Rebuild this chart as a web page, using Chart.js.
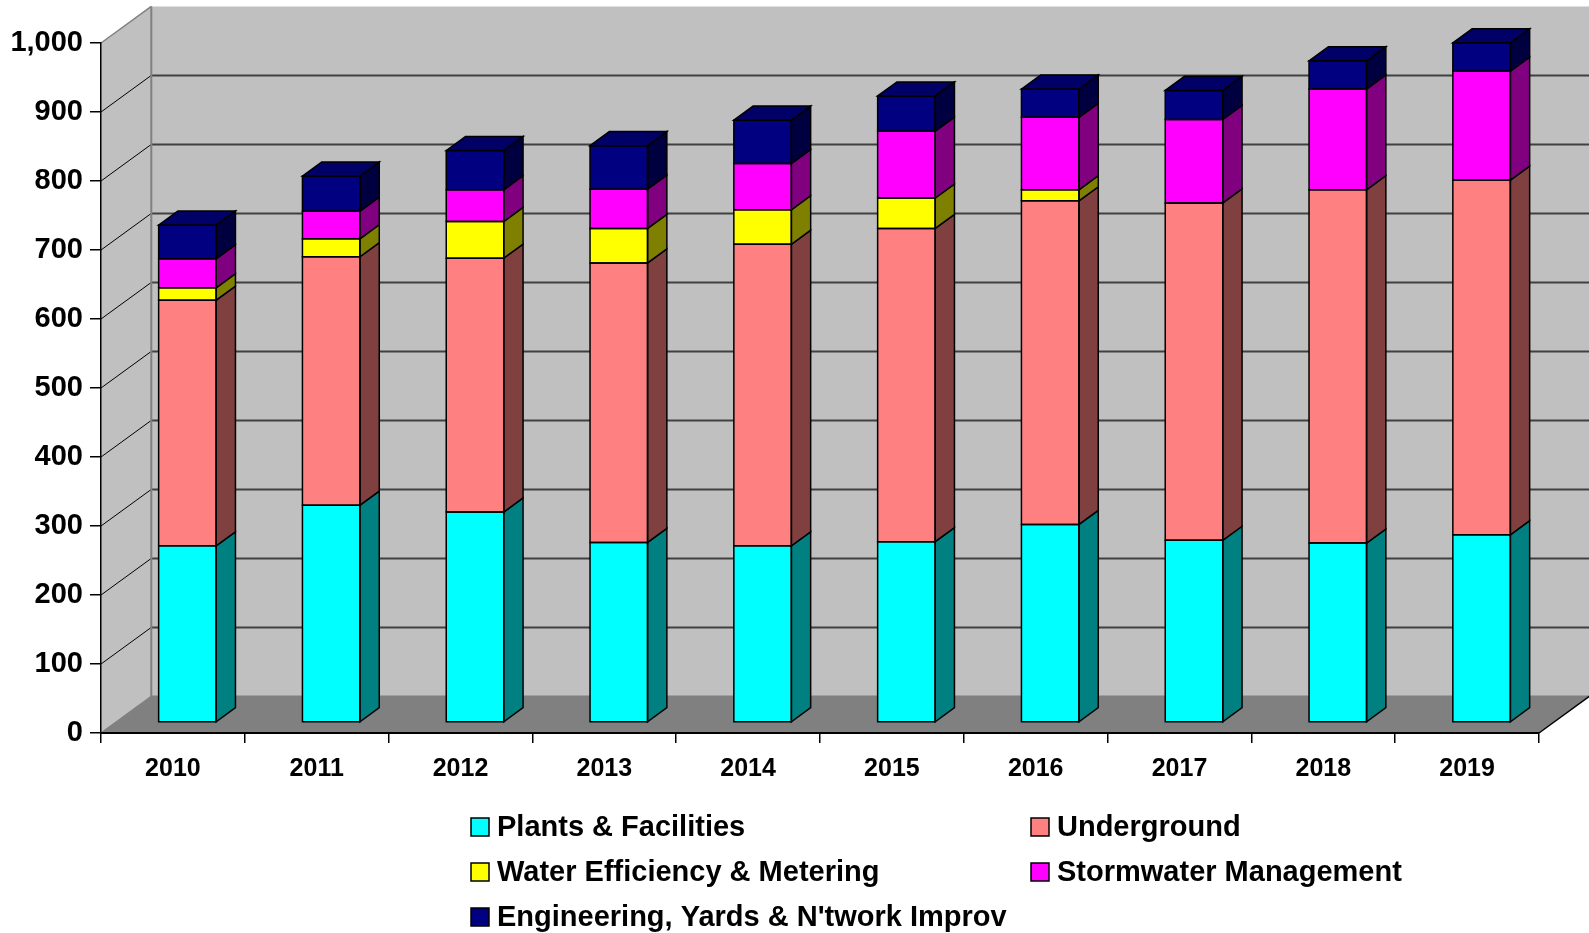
<!DOCTYPE html>
<html>
<head>
<meta charset="utf-8">
<script src="https://cdn.jsdelivr.net/npm/chart.js@4.4.0/dist/chart.umd.min.js"></script>
<style>
  html, body { margin: 0; padding: 0; background: #fff; }
  canvas { display: block; }
</style>
</head>
<body>
<canvas id="capitalChart" width="1589" height="933"></canvas>
<script>
const years = ['2010', '2011', '2012', '2013', '2014', '2015', '2016', '2017', '2018', '2019'];
const plants = [256, 315, 305, 261, 256, 262, 287, 264, 260, 272];
const underground = [356, 360, 368, 405, 437, 454, 469, 489, 512, 514];
const waterEfficiency = [18, 26, 53, 50, 50, 44, 16, 0, 0, 0];
const stormwater = [42, 40, 46, 57, 67, 97, 105, 121, 146, 158];
const engineering = [49, 51, 57, 63, 63, 51, 41, 42, 41, 41];
const yTicks = [0, 100, 200, 300, 400, 500, 600, 700, 800, 900, 1000];

const seriesNames = ['Plants & Facilities', 'Underground', 'Water Efficiency & Metering',
    'Stormwater Management', "Engineering, Yards & N'twork Improv"];
const seriesValues = [plants, underground, waterEfficiency, stormwater, engineering];
const frontColors = ['#00FFFF', '#FF8080', '#FFFF00', '#FF00FF', '#000080'];
const sideColors = ['#008080', '#804040', '#808000', '#800080', '#000040'];
const topColors = ['#00CCCC', '#CC6666', '#CCCC00', '#CC00CC', '#000066'];

// 3d projection offsets (pixels)
const WALL = { dx: 50.3, dy: -36.6 };
const BAR_SHIFT = { dx: 14.5, dy: -10.5 };
const BAR_DEPTH = { dx: 19.3, dy: -14.1 };
const FONT = "'Liberation Sans', Arial, sans-serif";

function poly(ctx, pts, fill, stroke, lw) {
    ctx.beginPath();
    ctx.moveTo(pts[0][0], pts[0][1]);
    for (let i = 1; i < pts.length; i++) ctx.lineTo(pts[i][0], pts[i][1]);
    ctx.closePath();
    if (fill) { ctx.fillStyle = fill; ctx.fill(); }
    if (stroke) { ctx.strokeStyle = stroke; ctx.lineWidth = lw || 1; ctx.stroke(); }
}

const wallsPlugin = {
    id: 'walls',
    beforeDraw(chart) {
        const { ctx, chartArea: a, scales: { y } } = chart;
        const top = y.getPixelForValue(1000);
        const bottom = y.getPixelForValue(0);
        const L = a.left, R = a.right;
        ctx.save();
        // back wall
        poly(ctx, [[L + WALL.dx, top + WALL.dy], [R + WALL.dx, top + WALL.dy],
            [R + WALL.dx, bottom + WALL.dy], [L + WALL.dx, bottom + WALL.dy]], '#C0C0C0');
        // left wall
        poly(ctx, [[L, top], [L + WALL.dx, top + WALL.dy], [L + WALL.dx, bottom + WALL.dy], [L, bottom]], '#C0C0C0');
        // floor
        poly(ctx, [[L, bottom], [L + WALL.dx, bottom + WALL.dy], [R + WALL.dx, bottom + WALL.dy], [R, bottom]], '#808080');

        // gridlines on the walls
        yTicks.forEach(v => {
            const py = y.getPixelForValue(v);
            if (v > 0 && v < 1000) {
                ctx.strokeStyle = '#404040';
                ctx.lineWidth = 2;
                ctx.beginPath();
                ctx.moveTo(L + WALL.dx, py + WALL.dy);
                ctx.lineTo(R + WALL.dx + 2, py + WALL.dy);
                ctx.stroke();
                ctx.strokeStyle = '#000';
                ctx.lineWidth = 1;
            } else {
                ctx.strokeStyle = '#808080';
                ctx.lineWidth = 1.5;
            }
            ctx.beginPath();
            ctx.moveTo(L, py);
            ctx.lineTo(L + WALL.dx, py + WALL.dy);
            ctx.stroke();
        });
        // wall corner edges
        ctx.strokeStyle = '#808080';
        ctx.lineWidth = 2;
        ctx.beginPath();
        ctx.moveTo(L + WALL.dx, top + WALL.dy);
        ctx.lineTo(L + WALL.dx, bottom + WALL.dy);
        ctx.lineTo(R + WALL.dx + 2, bottom + WALL.dy);
        ctx.stroke();
        // floor right edge
        ctx.strokeStyle = '#000';
        ctx.lineWidth = 1.5;
        ctx.beginPath();
        ctx.moveTo(R, bottom);
        ctx.lineTo(R + WALL.dx, bottom + WALL.dy);
        ctx.stroke();
        ctx.restore();
    },
    beforeDatasetsDraw(chart) {
        chart.ctx.save();
        chart.ctx.translate(BAR_SHIFT.dx, BAR_SHIFT.dy);
    },
    afterDatasetsDraw(chart) {
        const ctx = chart.ctx;
        const topSeg = {};
        chart.data.datasets.forEach((ds, di) => {
            const meta = chart.getDatasetMeta(di);
            meta.data.forEach((el, i) => {
                const p = el.getProps(['x', 'y', 'base', 'width'], true);
                const t = Math.min(p.y, p.base), b = Math.max(p.y, p.base);
                if (b - t < 0.5) return;
                const l = p.x - p.width / 2, r = p.x + p.width / 2;
                // side face
                poly(ctx, [[r, t], [r + BAR_DEPTH.dx, t + BAR_DEPTH.dy],
                    [r + BAR_DEPTH.dx, b + BAR_DEPTH.dy], [r, b]], sideColors[di], '#000', 1.5);
                // front outline
                poly(ctx, [[l, t], [r, t], [r, b], [l, b]], null, '#000', 1.5);
                if (!topSeg[i] || t < topSeg[i].t) topSeg[i] = { t, l, r, di };
            });
        });
        Object.values(topSeg).forEach(s => {
            poly(ctx, [[s.l, s.t], [s.l + BAR_DEPTH.dx, s.t + BAR_DEPTH.dy],
                [s.r + BAR_DEPTH.dx, s.t + BAR_DEPTH.dy], [s.r, s.t]], topColors[s.di], '#000', 1.5);
        });
        ctx.restore();
    },
    afterDraw(chart) {
        // legend, two columns
        const ctx = chart.ctx;
        const colX = [471, 1031];
        const rowY = [827, 872, 917];
        ctx.save();
        ctx.font = 'bold 29px ' + FONT;
        ctx.textBaseline = 'middle';
        ctx.fillStyle = '#000';
        chart.data.datasets.forEach((ds, i) => {
            const x = colX[i % 2], yy = rowY[Math.floor(i / 2)];
            ctx.fillStyle = ds.backgroundColor;
            ctx.fillRect(x, yy - 9, 18, 18);
            ctx.strokeStyle = '#000';
            ctx.lineWidth = 1.5;
            ctx.strokeRect(x, yy - 9, 18, 18);
            ctx.fillStyle = '#000';
            ctx.fillText(ds.label, x + 26, yy + 1);
        });
        ctx.restore();
    }
};

const ctxCapital = document.getElementById('capitalChart').getContext('2d');
new Chart(ctxCapital, {
    type: 'bar',
    data: {
        labels: years,
        datasets: seriesNames.map((name, i) => ({
            label: name,
            data: seriesValues[i],
            backgroundColor: frontColors[i],
            borderWidth: 0,
            barPercentage: 0.4,
            categoryPercentage: 1,
            clip: false
        }))
    },
    options: {
        responsive: false,
        animation: false,
        devicePixelRatio: 1,
        locale: 'en-US',
        layout: { padding: { top: 43, right: 50, bottom: 0, left: 0 } },
        scales: {
            x: {
                stacked: true,
                grid: { drawOnChartArea: false, drawTicks: true, tickLength: 10, color: '#000', lineWidth: 1.5, offset: true },
                border: { display: true, color: '#000', width: 2 },
                ticks: { color: '#000', font: { family: FONT, size: 25, weight: 'bold' }, padding: 11, maxRotation: 0 },
                afterFit: scale => { scale.height = 200; }
            },
            y: {
                stacked: true,
                min: 0,
                max: 1000,
                grid: { drawOnChartArea: false, drawTicks: true, tickLength: 11, color: '#000', lineWidth: 1.5 },
                border: { display: true, color: '#000', width: 1.5 },
                ticks: { stepSize: 100, color: '#000', font: { family: FONT, size: 29, weight: 'bold' }, padding: 7 },
                afterFit: scale => { scale.width = 101; }
            }
        },
        plugins: {
            legend: { display: false },
            tooltip: { enabled: false }
        }
    },
    plugins: [wallsPlugin]
});
</script>
</body>
</html>
